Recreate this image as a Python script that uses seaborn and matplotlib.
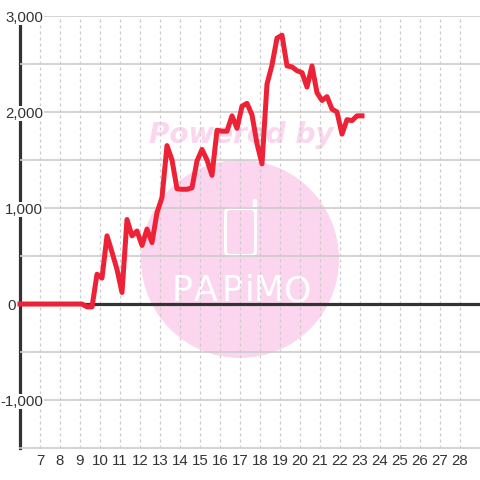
import matplotlib
matplotlib.use('Agg')
import matplotlib.pyplot as plt
from matplotlib.patches import Circle, FancyBboxPatch
import seaborn as sns

# x positions of the samples (hours)
hours = [6.0, 6.6, 7.1, 7.6, 8.1, 8.6, 9.1, 9.35, 9.6, 9.85, 10.1, 10.35, 10.6, 10.85, 11.1,
         11.35, 11.6, 11.85, 12.1, 12.35, 12.6, 12.85, 13.1, 13.35, 13.6, 13.85, 14.1, 14.35,
         14.6, 14.85, 15.1, 15.35, 15.6, 15.85, 16.1, 16.35, 16.6, 16.85, 17.1, 17.35, 17.6,
         17.85, 18.1, 18.35, 18.6, 18.85, 19.1, 19.35, 19.6, 19.85, 20.1, 20.35, 20.6, 20.85,
         21.1, 21.35, 21.6, 21.85, 22.1, 22.35, 22.6, 22.85, 23.1]
values = [0, 0, 0, 0, 0, 0, 0, -30, -30, 310, 270, 710, 540, 360, 120,
          880, 710, 760, 610, 780, 640, 950, 1110, 1650, 1500, 1200, 1195, 1195,
          1210, 1490, 1610, 1500, 1340, 1810, 1800, 1800, 1960, 1830, 2060, 2090, 1970,
          1670, 1460, 2290, 2490, 2770, 2800, 2480, 2470, 2430, 2410, 2260, 2480, 2200,
          2120, 2160, 2030, 2000, 1770, 1920, 1910, 1960, 1960]

x_ticks = [7, 8, 9, 10, 11, 12, 13, 14, 15, 16, 17, 18, 19, 20, 21, 22, 23, 24, 25, 26, 27, 28]
y_ticks = [-1000, -500, 0, 500, 1000, 1500, 2000, 2500, 3000]
y_labels = ['-1,000', '', '0', '', '1,000', '', '2,000', '', '3,000']

sns.set_theme(style='white')
plt.rcParams['font.family'] = ['Liberation Sans', 'DejaVu Sans']

W = 480.0
fig = plt.figure(figsize=(4.8, 4.8), dpi=100, facecolor='white')
ax = fig.add_axes([20 / W, 32 / W, 460 / W, 432 / W])
ax.set_xlim(6, 29)
ax.set_ylim(-1500, 3000)


def fx(px):
    return px / W


def fy(py):
    return 1 - py / W


# watermark, sits under the grid
pink = '#fbd6ee'
ax.add_patch(Circle((240, W - 259), 99, transform=None, color=pink, zorder=0.3, lw=0))
ax.text(fx(241), fy(135), 'Powered by', transform=fig.transFigure, ha='center', va='center',
        family='DejaVu Sans', weight='bold', style='oblique', fontsize=20.1, color=pink, zorder=0.3)
ax.add_patch(FancyBboxPatch((fx(225.5), fy(255.5)), 30 / W, 47 / W, boxstyle='round,pad=0,rounding_size=0.01',
                            transform=fig.transFigure, fc='none', ec='white', lw=2.2, zorder=0.35))
ax.plot([fx(255), fx(255)], [fy(210), fy(201)], transform=fig.transFigure, color='white', lw=3.2,
        solid_capstyle='round', zorder=0.35)
logo_letters = ['P', 'A', 'P', 'i', 'M', 'O']
logo_x = [182, 206, 232, 250, 269, 298]
for letter, lx in zip(logo_letters, logo_x):
    ax.text(fx(lx), fy(291), letter, transform=fig.transFigure, ha='center', va='center',
            family='DejaVu Sans', fontsize=25, color='white', zorder=0.35)

ax.set_axisbelow(True)
ax.set_xticks(x_ticks)
ax.set_xticklabels([str(t) for t in x_ticks])
ax.set_yticks(y_ticks)
ax.set_yticklabels(y_labels)
ax.grid(True, axis='y', color='#cccccc', lw=1.2)
ax.grid(True, axis='x', color='#cccccc', lw=0.9, ls=(0, (2.4, 2.4)))
ax.tick_params(axis='both', length=0, labelsize=10.8, labelcolor='#333333')
ax.tick_params(axis='x', pad=4.6)
for t, lab in zip(ax.yaxis.get_major_ticks(), y_labels):
    t.set_pad(2.9 if lab == '0' else -16.6)
    t.label1.set_bbox(dict(fc='white', ec='none', pad=0.6))

for side in ['top', 'right']:
    ax.spines[side].set_visible(False)
ax.spines['left'].set(color='#333333', lw=2.3, zorder=0.4)
ax.spines['bottom'].set(color='#cccccc', lw=1.2, zorder=0.4)

ax.axhline(0, color='#333333', lw=2.3, zorder=1.5)
sns.lineplot(x=hours, y=values, ax=ax, color='#ee2236', lw=3.6, estimator=None, sort=False,
             zorder=3, clip_on=False, solid_capstyle='projecting')
ax.set_xlabel('')
ax.set_ylabel('')

fig.savefig('out.png', dpi=100)
